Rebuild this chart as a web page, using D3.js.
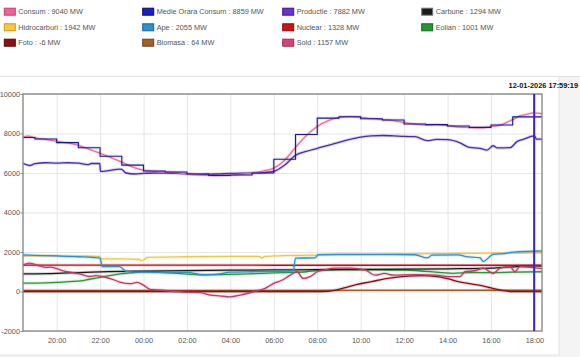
<!DOCTYPE html>
<html><head><meta charset="utf-8">
<script src="https://cdn.jsdelivr.net/npm/d3@7/dist/d3.min.js"></script>
<style>
html,body{margin:0;padding:0;background:#fff;}
svg{display:block;font-family:"Liberation Sans",Arial,sans-serif;}
</style></head>
<body>
<svg id="c" width="580" height="357"></svg>
<script>
// ---- DATA (time = hours since 2026-01-11 00:00) ----
const medieTimes = [18.45,19,20,21,22,23,24,25,26,27,28,29,30,31,32,33,34,35,36,37,38,39,40,41,42.35];
const medieValues = [7800,7720,7540,7280,6850,6400,6100,6050,5950,5880,5900,6000,6700,7950,8780,8850,8750,8680,8480,8450,8380,8310,8430,8840,8840];

const consumTimes = [18.45,18.7,19,19.5,20,20.5,21,21.5,22,22.5,23,23.5,24,24.5,25,25.5,26,26.5,27,27.5,28,28.5,29,29.5,30,30.5,31,31.5,32,32.5,33,33.5,34,34.5,35,35.5,36,36.5,37,37.5,38,38.5,39,39.5,40,40.5,40.8,41,41.3,41.6,42,42.35];
const consumValues = [7820,7870,7780,7700,7600,7520,7400,7200,7000,6780,6550,6300,6150,6080,6050,6020,5950,5900,5880,5870,5890,5930,6000,6100,6250,6650,7300,7900,8350,8650,8800,8850,8820,8750,8700,8650,8550,8480,8430,8450,8400,8330,8300,8280,8350,8450,8600,8700,8880,8960,9040,9000];

const productieTimes = [18.45,18.75,19,19.5,20,20.5,21,21.44,21.6,21.98,22.02,22.4,22.9,23.0,23.2,23.6,24,24.5,25,25.5,26,26.5,27,27.5,28,28.5,29,29.5,30,30.5,31,31.5,32,32.5,33,33.5,34,34.5,35,35.5,36,36.5,37.06,37.5,38,38.57,39,39.5,39.82,40.1,40.28,40.88,41.2,41.48,42,42.1,42.35];
const productieValues = [6490,6380,6470,6520,6500,6520,6500,6420,6480,6480,6080,6120,6200,6180,6000,5950,5980,6000,5990,5980,5960,5930,5940,5960,5980,5990,6000,6020,6080,6400,6900,7100,7250,7400,7550,7700,7820,7880,7900,7880,7850,7840,7640,7700,7690,7530,7300,7250,7160,7380,7270,7280,7590,7700,7880,7720,7720];

const carbuneTimes = [18.45,20,21,22,23,24,26,28,30,32,34,36,38,40,41,42,42.35];
const carbuneValues = [890,920,960,990,1020,1030,1060,1080,1090,1110,1120,1130,1150,1180,1250,1294,1290];

const hidroTimes = [18.45,20,21,21.98,22.02,23,23.8,23.9,24.05,24.2,26,28,29.3,29.45,29.6,30,31,33,35,36,38,40,42.35];
const hidroValues = [1800,1800,1790,1780,1650,1650,1620,1560,1640,1730,1760,1780,1780,1700,1780,1800,1830,1850,1870,1900,1920,1940,1950];

const apeTimes = [18.45,19,20,21,21.9,22.0,22.1,22.9,23.2,24,25,26,26.8,27.3,28,29,30,30.9,31.0,31.9,32.05,33,35,36.5,37.06,37.3,38.5,38.8,39.5,39.64,40.1,40.6,41.02,42.35];
const apeValues = [1850,1830,1800,1760,1700,1680,1260,1260,1020,980,960,970,850,860,980,1000,1020,1050,1690,1700,1870,1880,1880,1860,1700,1840,1850,1780,1700,1520,1880,1920,1990,2050];

const nuclearTimes = [18.45,24,30,36,42.35];
const nuclearValues = [1340,1335,1330,1330,1328];

const eolianTimes = [18.45,19.5,20,20.6,21.1,21.5,22,22.5,23,23.5,24,25,26,26.6,27.5,28.5,29.5,30.5,31.5,32,33,35,36,37,38.25,39,40,41,42.35];
const eolianValues = [420,440,460,500,540,620,720,820,900,950,990,960,880,840,860,880,920,960,1000,1060,1090,1090,1080,1020,920,960,960,980,1000];

const fotoTimes = [18.45,32.2,32.8,33.3,33.8,34.5,35.1,35.6,36.2,36.8,37.5,38,38.5,39,39.5,40,40.5,40.9,42.35];
const fotoValues = [0,0,60,200,350,500,640,720,780,800,760,650,500,400,310,180,60,0,-6];

const biomasaTimes = [18.45,42.35];
const biomasaValues = [60,64];

const soldTimes = [18.45,18.75,19.2,19.5,19.7,20.3,21.1,21.5,21.8,22.1,22.5,22.9,23.4,23.7,24.0,24.3,24.8,25.5,26.0,26.6,27.06,27.5,28.0,28.45,29.1,29.6,30.0,30.4,30.75,31.07,31.35,31.67,32.0,32.36,32.8,33.5,34.2,34.66,35.1,35.5,36.5,37.5,38.0,38.57,38.8,39.27,39.64,40.1,40.42,40.88,41.1,41.34,42.0,42.35];
const soldValues = [1340,1440,1300,1220,1230,1050,880,760,800,760,645,480,400,460,320,110,65,0,-40,-60,-180,-220,-270,-180,0,160,415,580,830,1000,660,750,1000,1100,1180,1180,1090,830,915,830,850,830,750,750,1000,1050,1180,915,1180,1260,1000,1260,1200,1157];

const legendNames = ["Consum : 9040 MW","Medie Orara Consum : 8859 MW","Productie : 7882 MW","Carbune : 1294 MW",
                     "Hidrocarburi : 1942 MW","Ape : 2055 MW","Nuclear : 1328 MW","Eolian : 1001 MW",
                     "Foto : -6 MW","Biomasa : 64 MW","Sold : 1157 MW"];
const yTicks = [-2000,0,2000,4000,6000,8000,10000];
const cursorTime = 17 + 59/60 + 19/3600 + 24;
const cursorLabel = "12-01-2026 17:59:19";

// ---- STYLE ----
const series = [
  {name:"Biomasa", t:biomasaTimes, v:biomasaValues, c:"#9c5a2c"},
  {name:"Foto", t:fotoTimes, v:fotoValues, c:"#8a0f14"},
  {name:"Eolian", t:eolianTimes, v:eolianValues, c:"#1f9a35"},
  {name:"Carbune", t:carbuneTimes, v:carbuneValues, c:"#1a1a1a"},
  {name:"Nuclear", t:nuclearTimes, v:nuclearValues, c:"#b5121b"},
  {name:"Hidrocarburi", t:hidroTimes, v:hidroValues, c:"#f3c640"},
  {name:"Ape", t:apeTimes, v:apeValues, c:"#2b93cc"},
  {name:"Sold", t:soldTimes, v:soldValues, c:"#c23a6a"},
  {name:"Productie", t:productieTimes, v:productieValues, c:"#4a2ab4"},
  {name:"Consum", t:consumTimes, v:consumValues, c:"#ef6f9c"},
  {name:"Medie", t:medieTimes, v:medieValues, c:"#1c1a8c", step:true, w:1.1, halo:0.1}
];
const legendColors = ["#f0609a","#1c1cc8","#6a2fd0","#1a1a1a","#f8c83c","#2a92cc","#cc1414","#1e9a2e","#8c1010","#a0602a","#d8407a"];
const legendBorders = ["#c04070","#0c0c70","#3a1690","#777","#c89820","#1a6294","#8a0a0a","#106a1a","#500808","#704018","#a02850"];

const svg = d3.select("#c");
const t0 = new Date(2026,0,11).getTime();
const toDate = h => new Date(t0 + h*3600000);

// backgrounds
svg.append("rect").attr("x",0).attr("y",77).attr("width",580).attr("height",280).attr("fill","#f4f4f4");
svg.append("rect").attr("x",-1).attr("y",76.5).attr("width",560).attr("height",278.5).attr("fill","#fff").attr("stroke","#e2e2e2");
svg.append("line").attr("x1",0).attr("x2",580).attr("y1",76.5).attr("y2",76.5).attr("stroke","#e0e0e0");

const L=23,R=542,T=94,B=331;
const x = d3.scaleTime().domain([toDate(18.45),toDate(42.35)]).range([L,R]);
const y = d3.scaleLinear().domain([-2000,10000]).range([B,T]);

// grid
const gx = svg.append("g").attr("transform",`translate(0,${B})`)
  .call(d3.axisBottom(x).ticks(d3.timeHour.every(2)).tickFormat(d3.timeFormat("%H:%M")).tickSize(-(B-T)).tickPadding(7));
gx.select(".domain").remove();
gx.selectAll(".tick line").attr("stroke","#e6e6e6");
gx.selectAll(".tick text").attr("fill","#555").attr("font-size","7.3px").attr("font-family","Liberation Sans, Arial, sans-serif");

const gy = svg.append("g").attr("transform",`translate(${L},0)`)
  .call(d3.axisLeft(y).tickValues(yTicks).tickFormat(d=>String(d)).tickSize(0).tickPadding(3));
gy.select(".domain").remove();
gy.selectAll(".tick text").attr("fill","#555").attr("font-size","7.3px").attr("font-family","Liberation Sans, Arial, sans-serif");
gy.selectAll(".tick").append("line").attr("x1",-(R-L)).attr("x2",0).attr("transform",`translate(${R-L},0)`).attr("stroke","#e6e6e6");
gy.selectAll(".tick").append("line").attr("x1",-2.5).attr("x2",0).attr("stroke","#888");

// lines
svg.append("clipPath").attr("id","pc").append("rect").attr("x",L).attr("y",T).attr("width",R-L).attr("height",B-T);
const gl = svg.append("g").attr("clip-path","url(#pc)");
series.forEach(s=>{
  const pts = s.t.map((h,i)=>[toDate(h), s.v[i]]);
  const line = d3.line().x(d=>x(d[0])).y(d=>y(d[1])).curve(s.step? d3.curveStepAfter : d3.curveMonotoneX);
  gl.append("path").datum(pts).attr("d",line).attr("fill","none").attr("stroke",s.c).attr("stroke-width",3.2).attr("stroke-opacity",s.halo ?? 0.18).attr("stroke-linejoin","round");
  gl.append("path").datum(pts).attr("d",line).attr("fill","none").attr("stroke",s.c).attr("stroke-width",s.w ?? 1.3).attr("stroke-linejoin","round");
});

// frame
svg.append("rect").attr("x",L).attr("y",T).attr("width",R-L).attr("height",B-T).attr("fill","none").attr("stroke","#8a8a8a").attr("stroke-width",1.4);

// cursor
svg.append("line").attr("x1",x(toDate(cursorTime))).attr("x2",x(toDate(cursorTime))).attr("y1",T).attr("y2",B)
  .attr("stroke","#3d1fd6").attr("stroke-width",2);
svg.append("text").attr("x",578).attr("y",88).attr("text-anchor","end").attr("font-size","7.4px").attr("font-weight","bold").attr("fill","#111").text(cursorLabel);

// legend
const colX = [18.3,156.7,296.7,435.7];
const rowY = [11.7,27.3,42.7];
legendNames.forEach((n,i)=>{
  const cx = colX[i%4], cy = rowY[Math.floor(i/4)];
  svg.append("rect").attr("x",cx-14).attr("y",cy-3.5).attr("width",11).attr("height",7)
    .attr("fill",legendColors[i]).attr("stroke",legendBorders[i]).attr("stroke-width",1);
  svg.append("text").attr("x",cx).attr("y",cy).attr("dy","0.35em").attr("font-size","7.3px").attr("fill","#555").text(n);
});
</script>
</body></html>
